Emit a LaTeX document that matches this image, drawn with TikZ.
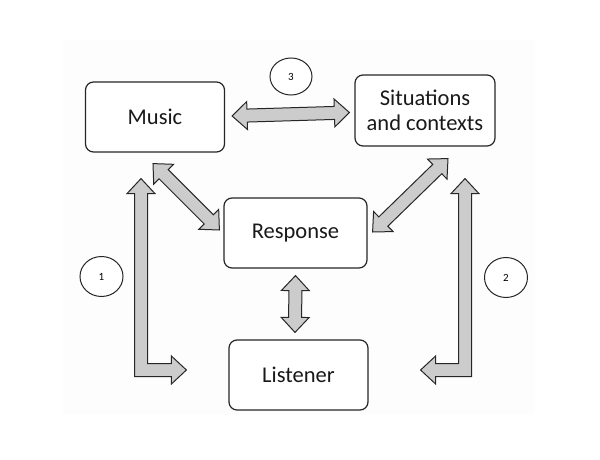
\documentclass[tikz,border=0pt]{standalone}
\usepackage{fontspec}
\setmainfont{Carlito}
\usetikzlibrary{calc,shapes.geometric}

\tikzset{
  box/.style={draw=black!85, line width=1.2pt, rounded corners=8pt, fill=white,
    minimum width=139pt, minimum height=70pt, align=center, text=black!90,
    font=\fontsize{22.5}{25}\selectfont},
  numring/.style={draw=black!85, line width=1pt, ellipse, fill=white,
    minimum width=43pt, minimum height=40pt, inner sep=0pt,
    font=\fontsize{11}{12}\selectfont},
  fat/.style={draw=black!85, line width=1pt, fill=gray!40, line join=miter}
}

% fat double-headed arrow between two points
\newcommand{\fatboth}[2]{%
  \draw[fat] (#1) -- ($(#1)!15pt!(#2)!14pt!90:(#2)$) -- ($(#1)!15pt!(#2)!6.5pt!90:(#2)$)
    -- ($(#2)!15pt!(#1)!6.5pt!-90:(#1)$) -- ($(#2)!15pt!(#1)!14pt!-90:(#1)$) -- (#2)
    -- ($(#2)!15pt!(#1)!14pt!90:(#1)$) -- ($(#2)!15pt!(#1)!6.5pt!90:(#1)$)
    -- ($(#1)!15pt!(#2)!6.5pt!-90:(#2)$) -- ($(#1)!15pt!(#2)!14pt!-90:(#2)$) -- cycle;}

\begin{document}
\begin{tikzpicture}[x=1pt, y=-1pt]
\useasboundingbox (0,0) rectangle (600,460);
% faint background panel
\fill[gray!1.5] (63,40) rectangle (535,415);
% Boxes
\node[box] (music) at (155,117) {Music};
\node[box, minimum width=140pt, minimum height=71pt] (situ) at (425,110.5) {Situations\\and contexts};
\node[box, minimum width=143pt] (resp) at (295.5,233) {Response};
\node[box] (listen) at (298.5,375) {Listener};
% Numbered rings
\node[numring, minimum width=42pt, minimum height=37pt] (n3) at (291,76.5) {3};
\node[numring] (n1) at (101.5,276.5) {1};
\node[numring] (n2) at (506,277.5) {2};
% Arrow end points
\coordinate (ms1) at ([xshift=7pt, yshift=1pt]music.east);
\coordinate (ms2) at ([xshift=-5pt, yshift=-2pt]situ.west);
\coordinate (mr1) at ([xshift=-2pt, yshift=-11pt]music.south);
\coordinate (mr2) at ([xshift=-4pt, yshift=3pt]resp.west);
\coordinate (sr1) at ([xshift=23pt, yshift=-12pt]situ.south);
\coordinate (sr2) at ([xshift=5pt, yshift=1pt]resp.east);
\coordinate (rl1) at ([yshift=-7pt]resp.south);
\coordinate (rl2) at ([xshift=-3.5pt, yshift=7pt]listen.north);
\coordinate (l1top) at ([xshift=-14pt, yshift=-26pt]music.south);
\coordinate (l1end) at ([xshift=-42pt, yshift=5pt]listen.west);
\coordinate (r2top) at ([xshift=40pt, yshift=-32pt]situ.south);
\coordinate (r2end) at ([xshift=52pt, yshift=5pt]listen.east);
% Straight double arrows
\fatboth{ms1}{ms2}
\fatboth{mr1}{mr2}
\fatboth{sr1}{sr2}
\fatboth{rl1}{rl2}
% Left elbow arrow (1)
\draw[fat] (l1top) -- ++(14,15) -- ++(-7.5,0) |- ($(l1end)+(-15,-6.5)$) -- ++(0,-7.5)
  -- (l1end) -- ++(-15,14) -- ++(0,-7.5) -| ($(l1top)+(-6.5,15)$) -- ++(-7.5,0) -- cycle;
% Right elbow arrow (2)
\draw[fat] (r2top) -- ++(14,15) -- ++(-7.5,0) |- ($(r2end)+(15,6.5)$) -- ++(0,7.5)
  -- (r2end) -- ++(15,-14) -- ++(0,7.5) -| ($(r2top)+(-6.5,15)$) -- ++(-7.5,0) -- cycle;
\end{tikzpicture}
\end{document}
